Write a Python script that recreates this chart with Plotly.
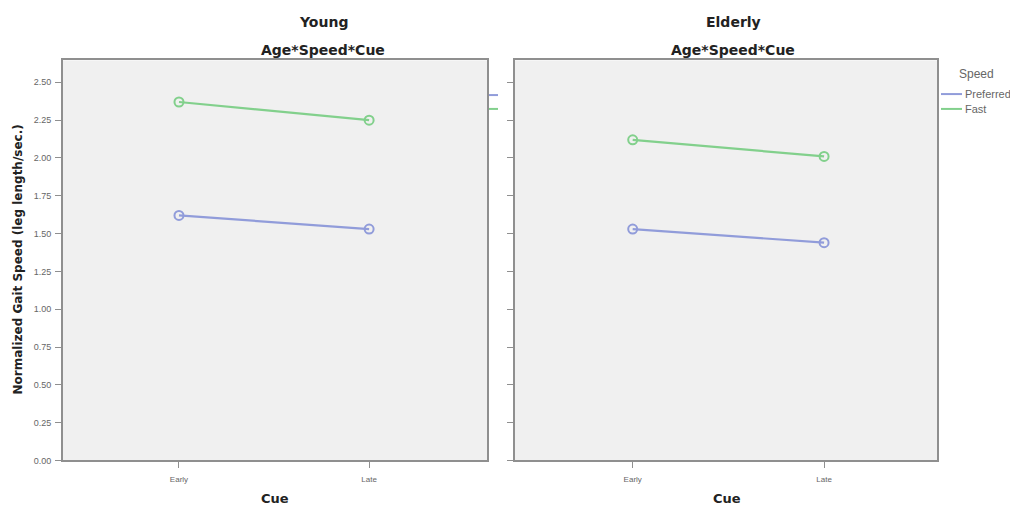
import plotly.graph_objects as go

# Estimated marginal means of normalized gait speed by cue timing
cues = ["Early", "Late"]
speeds = ["Preferred", "Fast"]
young_preferred = [1.62, 1.53]
young_fast = [2.37, 2.25]
elderly_preferred = [1.53, 1.44]
elderly_fast = [2.12, 2.01]
y_ticks = [0.0, 0.25, 0.5, 0.75, 1.0, 1.25, 1.5, 1.75, 2.0, 2.25, 2.5]
y_tick_labels = [f"{v:.2f}" for v in y_ticks]

colors = {"Preferred": "rgb(145,156,218)", "Fast": "rgb(130,208,140)"}
W, H = 1010, 511
FONT = "Liberation Sans, Arial, sans-serif"
BOLD = "DejaVu Sans, Liberation Sans, sans-serif"

fig = go.Figure()

panels = [
    ("x", "y", {"Preferred": young_preferred, "Fast": young_fast}),
    ("x2", "y2", {"Preferred": elderly_preferred, "Fast": elderly_fast}),
]
for xa, ya, series in panels:
    for sp in speeds:
        fig.add_trace(go.Scatter(
            x=cues, y=series[sp], xaxis=xa, yaxis=ya, name=sp,
            mode="lines+markers", showlegend=False,
            line=dict(color=colors[sp], width=2.2),
            marker=dict(symbol="circle-open", size=9, color=colors[sp],
                        line=dict(width=2)),
        ))

axis_common = dict(showline=True, mirror=True, linecolor="#8f8f8f", linewidth=2,
                   showgrid=False, zeroline=False, ticks="outside",
                   tickcolor="#8f8f8f", ticklen=6, tickwidth=1)
x_common = dict(axis_common, type="category", ticklabelstandoff=4,
                tickfont=dict(family=FONT, size=8, color="#666"))
y_common = dict(axis_common, range=[0, 2.645], tickvals=y_ticks,
                ticktext=y_tick_labels, ticklabelstandoff=2,
                tickfont=dict(family=FONT, size=9, color="#666"))

fig.update_layout(
    width=W, height=H,
    margin=dict(l=0, r=0, t=0, b=0),
    paper_bgcolor="white", plot_bgcolor="#f0f0f0",
    xaxis=dict(x_common, domain=[63 / W, 487 / W], anchor="y",
               range=[-0.61, 1.62]),
    yaxis=dict(y_common, domain=[1 - 465 / H, 1 - 61 / H], anchor="x"),
    xaxis2=dict(x_common, domain=[515 / W, 937 / W], anchor="y2",
                range=[-0.615, 1.59]),
    yaxis2=dict(y_common, domain=[1 - 465 / H, 1 - 61 / H], anchor="x2",
                showticklabels=False),
    showlegend=False,
)

def label(text, x, y, size, angle=0, bold=True, color="#222", xanchor="center",
          family=BOLD):
    fig.add_annotation(text=f"<b>{text}</b>" if bold else text,
                       x=x / W, y=1 - y / H, xref="paper", yref="paper",
                       xanchor=xanchor, yanchor="middle", showarrow=False,
                       textangle=angle,
                       font=dict(family=family, size=size, color=color))

label("Young", 323, 22, 14)
label("Age*Speed*Cue", 323, 50, 14)
label("Elderly", 733, 22, 14)
label("Age*Speed*Cue", 733, 50, 14)
label("Cue", 275, 503, 13)
label("Cue", 727, 503, 13)
label("Normalized Gait Speed (leg length/sec.)", 18, 262, 12, angle=-90)

# Speed key at the right edge
label("Speed", 957, 75, 12, bold=False, color="#666", xanchor="left", family=FONT)
for yy, sp in [(95, "Preferred"), (110, "Fast")]:
    fig.add_shape(type="line", xref="paper", yref="paper",
                  x0=941 / W, x1=962 / W, y0=1 - yy / H, y1=1 - yy / H,
                  line=dict(color=colors[sp], width=2))
    label(sp, 963, yy, 11, bold=False, color="#666", xanchor="left", family=FONT)

# key strokes of the first panel peeking out past its frame
for yy, sp in [(96, "Preferred"), (110, "Fast")]:
    fig.add_shape(type="line", xref="paper", yref="paper",
                  x0=489 / W, x1=498 / W, y0=1 - yy / H, y1=1 - yy / H,
                  line=dict(color=colors[sp], width=2))

fig.write_html("out.html")
